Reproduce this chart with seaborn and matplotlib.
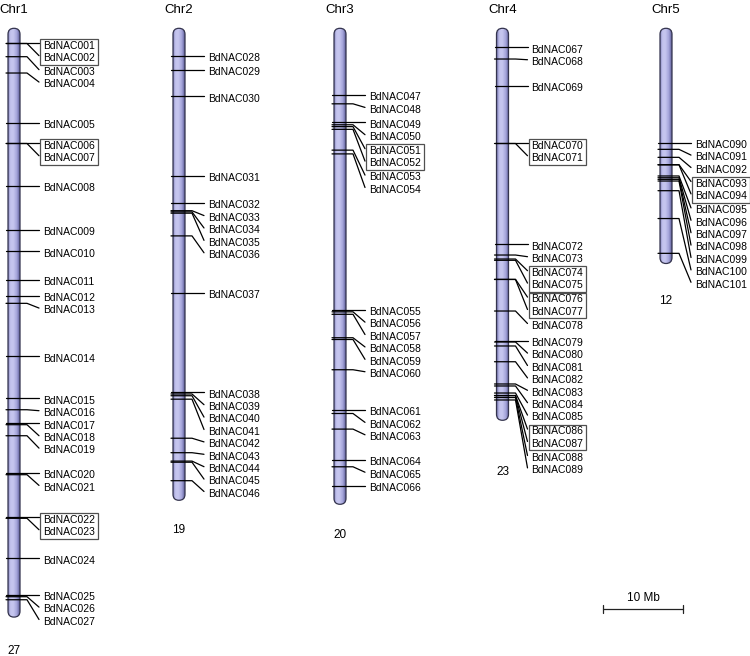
import numpy as np
import pandas as pd
import matplotlib
matplotlib.use("Agg")
import matplotlib.pyplot as plt
import seaborn as sns
from matplotlib.patches import FancyBboxPatch, Rectangle
from matplotlib.colors import LinearSegmentedColormap

# ---------------- data (positions in Mb from chromosome top) ----------------
chromosomes = ["Chr1", "Chr2", "Chr3", "Chr4", "Chr5"]
chrom_length_mb = [73.6, 59.0, 59.5, 49.0, 29.4]
first_gene_index = [1, 28, 47, 67, 90]

chr1_pos = [1.87, 1.90, 3.55, 5.59, 11.84, 14.38, 14.40, 19.68, 25.18, 27.88,
            31.46, 33.42, 34.38, 41.00, 46.25, 47.68, 49.38, 49.55, 50.93, 55.59,
            55.80, 61.13, 61.25, 66.25, 70.80, 71.05, 71.43]
chr2_pos = [3.44, 5.16, 8.51, 18.43, 21.86, 22.80, 22.95, 23.11, 25.95, 33.05,
            45.50, 45.71, 45.93, 46.36, 51.24, 53.05, 54.10, 54.24, 56.55]
chr3_pos = [8.34, 9.44, 11.75, 12.06, 12.29, 12.63, 15.23, 15.70, 35.18, 35.44,
            35.75, 38.68, 38.90, 42.68, 47.71, 48.15, 50.10, 53.94, 54.81, 57.21]
chr4_pos = [2.38, 3.84, 7.18, 14.38, 14.40, 27.00, 28.34, 28.84, 29.00, 31.38,
            31.40, 35.34, 39.05, 39.21, 39.71, 41.68, 44.46, 44.71, 45.59, 45.90,
            45.92, 46.15, 46.46]
chr5_pos = [14.30, 15.13, 16.13, 17.05, 17.07, 18.46, 18.68, 18.88, 19.09, 20.30,
            23.78, 28.13]
gene_positions = [chr1_pos, chr2_pos, chr3_pos, chr4_pos, chr5_pos]

tandem_pairs = [("BdNAC001", "BdNAC002"), ("BdNAC006", "BdNAC007"),
                ("BdNAC022", "BdNAC023"), ("BdNAC051", "BdNAC052"),
                ("BdNAC070", "BdNAC071"), ("BdNAC074", "BdNAC075"),
                ("BdNAC076", "BdNAC077"), ("BdNAC086", "BdNAC087"),
                ("BdNAC093", "BdNAC094")]
scale_mb = 10

# ---------------- layout ----------------
W, H = 750, 656
PX = 8.0                 # pixels per Mb
TOP_PX = 28.3
chrom_center_px = [14, 179, 340, 502.5, 666]
count_offset_px = [34, 30, 31, 52, 38]
HALF_W = 6.0
SPACING = 12.4 / PX
BOX_GAP = 1.6 / PX
TEXT_OFF = 2.3 / PX

sns.set_theme(style="white")
plt.rcParams["font.family"] = ["Liberation Sans", "DejaVu Sans"]
plt.rcParams["text.color"] = "black"

fig = plt.figure(figsize=(W / 100, H / 100), dpi=100)
ax = fig.add_axes([0, 0, 1, 1])

box_of = {}
for k, (a, b) in enumerate(tandem_pairs):
    box_of[a] = k
    box_of[b] = k

cmap = LinearSegmentedColormap.from_list(
    "chrom", [(0.0, "#7a7ab4"), (0.18, "#c4c4ee"), (0.45, "#c6c6ef"),
              (0.75, "#a4a4da"), (1.0, "#5c5c98")])

rows = []
texts = []
boxes = []
for ci, chrom in enumerate(chromosomes):
    cx = chrom_center_px[ci]
    L = chrom_length_mb[ci]
    left, right = cx - HALF_W, cx + HALF_W
    # chromosome body
    patch = FancyBboxPatch((left, 0), 2 * HALF_W, L,
                           boxstyle=f"round,pad=0,rounding_size={HALF_W}",
                           mutation_aspect=1 / PX, fc="none", ec="#34344e",
                           lw=0.9, zorder=3)
    ax.add_patch(patch)
    grad = np.linspace(0, 1, 64).reshape(1, -1)
    im = ax.imshow(grad, extent=(left, right, L, 0), cmap=cmap, aspect="auto",
                   interpolation="bicubic", zorder=1)
    im.set_clip_path(patch)

    # label placement
    names = [f"BdNAC{first_gene_index[ci] + j:03d}" for j in range(len(gene_positions[ci]))]
    prev_line = None
    prev_box = None
    lines = []
    for name, pos in zip(names, gene_positions[ci]):
        bx = box_of.get(name)
        if prev_line is None:
            line = pos
        else:
            need = prev_line + SPACING
            if bx != prev_box and (bx is not None or prev_box is not None):
                need += BOX_GAP
            line = max(pos, need)
        lines.append(line)
        prev_line, prev_box = line, bx
        rows += [dict(gene=name, x=left - 2, y=pos),
                 dict(gene=name, x=right + 7, y=pos),
                 dict(gene=name, x=right + 19, y=line)]
        texts.append((right + 23, line + TEXT_OFF, name))
    # boxes
    for a, b in tandem_pairs:
        if a in names:
            ya = lines[names.index(a)] + TEXT_OFF
            yb = lines[names.index(b)] + TEXT_OFF
            boxes.append(Rectangle((right + 20, ya - 6.8 / PX), 57.5,
                                   (yb - ya) + 13.4 / PX, fill=False,
                                   ec="#505050", lw=0.9, zorder=4))
    # title and count
    ax.text(cx, (10 - TOP_PX) / PX, chrom, ha="center", va="center",
            fontsize=9.5, color="black")
    ax.text(cx, L + count_offset_px[ci] / PX, str(len(names)), ha="center",
            va="center", fontsize=8.5, color="black")

df = pd.DataFrame(rows)
sns.lineplot(data=df, x="x", y="y", units="gene", estimator=None, sort=False,
             color="black", lw=0.9, ax=ax, zorder=5, legend=False)

for x, y, t in texts:
    ax.text(x, y, t, ha="left", va="center", fontsize=7.5, color="black",
            zorder=6)
for b in boxes:
    ax.add_patch(b)

# scale bar
sx0 = 603
sy = (609.3 - TOP_PX) / PX
sx1 = sx0 + scale_mb * PX
ax.plot([sx0, sx1], [sy, sy], color="#222222", lw=0.9)
ax.plot([sx0, sx0], [sy - 4 / PX, sy + 4 / PX], color="#222222", lw=0.9)
ax.plot([sx1, sx1], [sy - 4 / PX, sy + 4 / PX], color="#222222", lw=0.9)
ax.text((sx0 + sx1) / 2, sy - 11.5 / PX, f"{scale_mb} Mb", ha="center",
        va="center", fontsize=8.5, color="black")

ax.set_xlim(0, W)
ax.set_ylim((H - TOP_PX) / PX, -TOP_PX / PX)
ax.axis("off")
fig.savefig("out.png", dpi=100)
